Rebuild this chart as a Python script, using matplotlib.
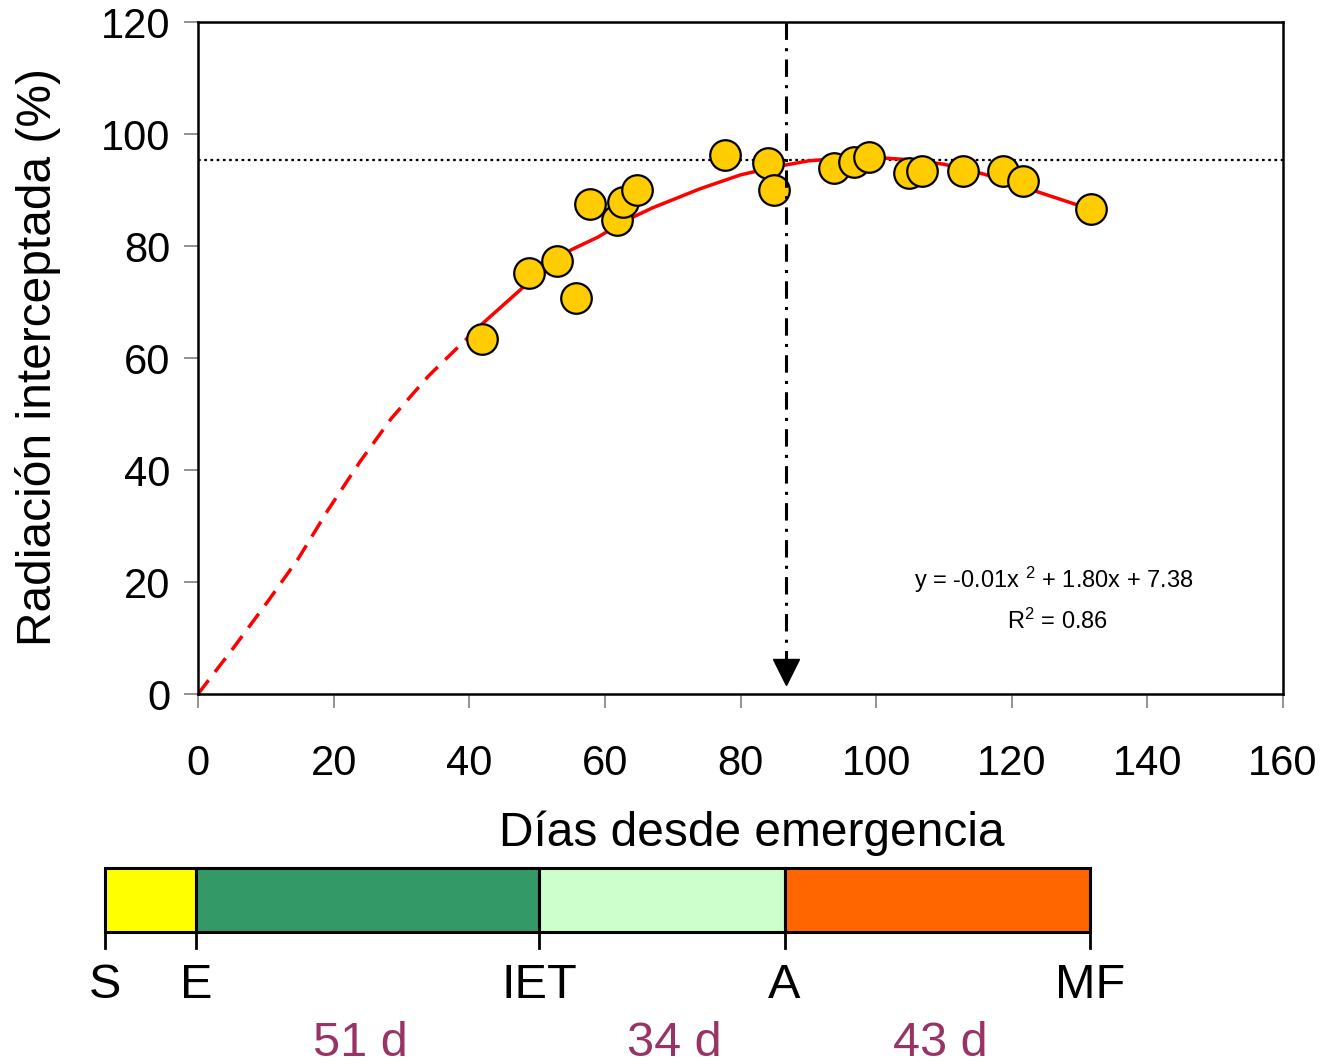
import matplotlib
matplotlib.use("Agg")
import matplotlib.pyplot as plt
import numpy as np

plt.rcParams['font.family'] = ['Liberation Sans', 'DejaVu Sans']
plt.rcParams['mathtext.fontset'] = 'custom'
plt.rcParams['mathtext.rm'] = 'Liberation Sans'
plt.rcParams['mathtext.default'] = 'regular'

# Observed data (days since emergence, % intercepted radiation)
obs_days = [41.9, 48.8, 52.9, 55.8, 57.8, 61.8, 62.7, 64.7, 77.7, 84.1, 85.0,
            93.8, 96.8, 99.0, 104.9, 106.8, 112.8, 118.7, 121.7, 131.7]
obs_rad = [63.4, 75.2, 77.3, 70.7, 87.5, 84.6, 87.9, 90.0, 96.3, 94.8, 90.0,
           93.9, 95.0, 95.9, 93.0, 93.4, 93.4, 93.4, 91.6, 86.6]

# Fitted curve (dashed = extrapolated part)
fit_days_dashed = [0, 5.2, 10.1, 14.8, 19.2, 23.9, 28.5, 34.0, 38.4, 42]
fit_rad_dashed = [0, 8.2, 16.2, 24.2, 32.9, 41.5, 49.2, 56.8, 62.0, 66.2]
fit_days_solid = [42, 47, 52, 55, 59, 63, 67, 74, 80, 85, 90, 95, 100, 105, 110, 116, 123, 132]
fit_rad_solid = [66.2, 71.6, 77.0, 79.3, 81.6, 84.5, 86.8, 90.2, 92.7, 94.1, 95.2, 95.7, 95.8,
                 95.4, 94.6, 92.8, 90.0, 86.4]

plateau = 95.4          # horizontal dotted line
anthesis_day = 86.7     # vertical dash-dot arrow

xticks = [0, 20, 40, 60, 80, 100, 120, 140, 160]
yticks = [0, 20, 40, 60, 80, 100, 120]

# Phenological stages
stage_labels = ['S', 'E', 'IET', 'A', 'MF']
stage_days = [-13.7, -0.3, 50.3, 86.5, 131.6]
stage_colors = ['#FFFF00', '#339966', '#CCFFCC', '#FF6600']
duration_labels = ['51 d', '34 d', '43 d']
duration_label_days = [23.9, 70.2, 109.4]

W, H = 1325, 1064
fig = plt.figure(figsize=(W / 100, H / 100), dpi=100)
ax = fig.add_axes([198 / W, 1 - 694 / H, (1283 - 198) / W, (694 - 22) / H])

ax.plot(fit_days_dashed, fit_rad_dashed, color='#FF0000', lw=2.5, dashes=(5.0, 3.0), zorder=2)
ax.plot(fit_days_solid, fit_rad_solid, color='#FF0000', lw=2.5, zorder=2)
ax.axhline(plateau, color='black', lw=1.6, ls=(0, (1.2, 1.6)), zorder=1)
ax.plot(obs_days, obs_rad, 'o', ms=22, mfc='#FFCC00', mec='black', mew=1.6, zorder=3)

# vertical dash-dot line with arrow head
ax.plot([anthesis_day, anthesis_day], [120, 6.3], color='black', lw=2.2,
        ls=(0, (5.7, 2.7, 1, 2.7)), zorder=4)
ax.plot([anthesis_day], [3.9], marker='v', ms=19, color='black', mec='black', zorder=4)

ax.text(126.2, 20.4, r'y = -0.01x $^{2}$ + 1.80x + 7.38', ha='center', va='center', fontsize=17)
ax.text(126.8, 13.0, r'R$^{2}$ = 0.86', ha='center', va='center', fontsize=17)

ax.set_xlim(0, 160)
ax.set_ylim(0, 120)
ax.set_xticks(xticks)
ax.set_yticks(yticks)
ax.tick_params(axis='both', direction='out', length=10, width=1.2, color='#808080',
               labelsize=30)
ax.tick_params(axis='x', pad=26)
ax.tick_params(axis='y', pad=10)
for s in ax.spines.values():
    s.set_linewidth(1.8)

fig.text(752 / W, 1 - 833 / H, 'Días desde emergencia', ha='center', va='center', fontsize=34.5)
fig.text(38 / W, 1 - 357 / H, 'Radiación interceptada (%)', ha='center', va='center',
         fontsize=34.5, rotation=90)

# Stage bar
bx = fig.add_axes([198 / W, 1 - 932 / H, (1283 - 198) / W, 64 / H])
bx.set_xlim(0, 160)
bx.set_ylim(0, 1)
bx.axis('off')
for i, c in enumerate(stage_colors):
    bx.bar(stage_days[i], 1, width=stage_days[i + 1] - stage_days[i], bottom=0, align='edge',
           color=c, edgecolor='black', lw=2.2, clip_on=False)
for d, lab in zip(stage_days, stage_labels):
    bx.plot([d, d], [0, -0.25], color='black', lw=2, clip_on=False)
    bx.text(d, -0.83, lab, ha='center', va='center', fontsize=35, clip_on=False)
for d, lab in zip(duration_label_days, duration_labels):
    bx.text(d, -1.75, lab, ha='center', va='center', fontsize=35, color='#993366',
            clip_on=False)

fig.savefig('out.png', dpi=100)
